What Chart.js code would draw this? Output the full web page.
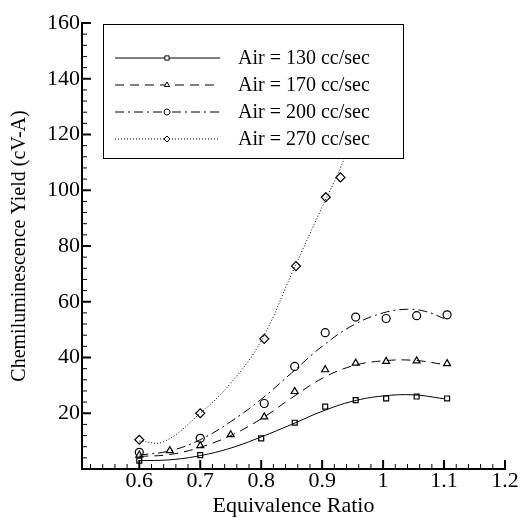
<!DOCTYPE html>
<html>
<head>
<meta charset="utf-8">
<script src="https://cdn.jsdelivr.net/npm/chart.js@4.4.1/dist/chart.umd.min.js"></script>
<style>
  html, body { margin: 0; padding: 0; background: #fff; }
  canvas { display: block; }
</style>
</head>
<body>
<canvas id="chart" width="528" height="519"></canvas>
<script>
// measured points (markers)
const labels = ['Air = 130 cc/sec', 'Air = 170 cc/sec', 'Air = 200 cc/sec', 'Air = 270 cc/sec'];
const x130 = [0.6, 0.7, 0.8, 0.855, 0.905, 0.955, 1.005, 1.055, 1.105];
const y130 = [3, 5, 11, 16.6, 22.4, 24.7, 25.3, 26, 25.3];
const x170 = [0.6, 0.65, 0.7, 0.75, 0.805, 0.855, 0.905, 0.955, 1.005, 1.055, 1.105];
const y170 = [5, 6.6, 8.4, 12.3, 18.7, 27.8, 35.6, 38, 38.6, 38.8, 37.8];
const x200 = [0.6, 0.7, 0.805, 0.855, 0.905, 0.955, 1.005, 1.055, 1.105];
const y200 = [6, 11, 23.5, 36.8, 48.9, 54.5, 54, 55, 55.3];
const x270 = [0.6, 0.7, 0.805, 0.857, 0.906, 0.93];
const y270 = [10.5, 20, 46.7, 72.8, 97.5, 104.6];

// fitted curves
const fitX130 = [0.6, 0.65, 0.7, 0.75, 0.8, 0.85, 0.9, 0.95, 1.0, 1.05, 1.1];
const fitY130 = [3, 3.3, 4.8, 7.5, 11.5, 16, 20.7, 24.3, 26.2, 26.6, 25.2];
const fitX170 = [0.6, 0.65, 0.7, 0.75, 0.8, 0.85, 0.9, 0.95, 1.0, 1.05, 1.1];
const fitY170 = [4.5, 5.2, 7.8, 12, 18, 25.5, 32.5, 37, 38.8, 39, 37.5];
const fitX200 = [0.6, 0.65, 0.7, 0.75, 0.8, 0.85, 0.9, 0.95, 1.0, 1.04, 1.07, 1.1];
const fitY200 = [5, 6.5, 10.5, 17, 25, 34.5, 44, 51.5, 56, 57.3, 56.5, 54];
const fitX270 = [0.6, 0.64, 0.7, 0.75, 0.8, 0.85, 0.9, 0.93, 0.95];
const fitY270 = [10, 9.8, 20, 30.8, 46, 70, 94, 108, 120];

const xTickLabels = [0.6, 0.7, 0.8, 0.9, 1, 1.1, 1.2];
const yTickLabels = [20, 40, 60, 80, 100, 120, 140, 160];

const styles = [
  { dash: [], point: 'rect', radius: 3.5 },
  { dash: [9, 6], point: 'triangle', radius: 4 },
  { dash: [9, 4, 2, 4], point: 'circle', radius: 4 },
  { dash: [1, 2], point: 'rectRot', radius: 4.5 }
];

const toPts = (xs, ys) => xs.map((x, i) => ({ x: x, y: ys[i] }));
const FONT = "'Liberation Serif', 'Times New Roman', serif";
Chart.defaults.font.family = FONT;
Chart.defaults.color = '#000';

function curve(xs, ys, s) {
  return {
    data: toPts(xs, ys), showLine: true, borderColor: '#000', borderWidth: 1,
    borderDash: s.dash, pointRadius: 0, tension: 0.4, fill: false
  };
}
function marks(xs, ys, s) {
  return {
    data: toPts(xs, ys), showLine: false, pointStyle: s.point, pointRadius: s.radius,
    pointBackgroundColor: '#fff', pointBorderColor: '#000', pointBorderWidth: 1.2
  };
}

// inward ticks on left and bottom axes
const innerTicks = {
  id: 'innerTicks',
  afterDatasetsDraw(chart) {
    const ctx = chart.ctx, xs = chart.scales.x, ys = chart.scales.y;
    const bottom = ys.getPixelForValue(0), left = xs.left;
    ctx.save();
    ctx.strokeStyle = '#000';
    for (let i = 26; i <= 60; i++) {
      const v = i / 50;
      const major = i % 5 === 0;
      const px = xs.getPixelForValue(v);
      ctx.lineWidth = major ? 2 : 1;
      ctx.beginPath(); ctx.moveTo(px, bottom); ctx.lineTo(px, bottom - (major ? 9 : 5)); ctx.stroke();
    }
    for (let v = 4; v <= 160; v += 4) {
      const major = v % 20 === 0;
      const py = ys.getPixelForValue(v);
      ctx.lineWidth = major ? 2 : 1;
      ctx.beginPath(); ctx.moveTo(left, py); ctx.lineTo(left + (major ? 9 : 5), py); ctx.stroke();
    }
    ctx.restore();
  }
};

// boxed legend drawn over the curves
const boxLegend = {
  id: 'boxLegend',
  afterDraw(chart) {
    const ctx = chart.ctx;
    const bx = 103, by = 24, bw = 300, bh = 134;
    ctx.save();
    ctx.fillStyle = '#fff';
    ctx.fillRect(bx, by, bw, bh);
    ctx.strokeStyle = '#000';
    ctx.lineWidth = 1;
    ctx.strokeRect(bx + 0.5, by + 0.5, bw, bh);
    ctx.font = '20px ' + FONT;
    ctx.textBaseline = 'middle';
    labels.forEach((lab, i) => {
      const y = 58 + i * 27;
      const s = styles[i];
      ctx.setLineDash(s.dash);
      ctx.beginPath(); ctx.moveTo(115, y); ctx.lineTo(220, y); ctx.stroke();
      ctx.setLineDash([]);
      ctx.fillStyle = '#fff';
      Chart.helpers.drawPoint(ctx, { pointStyle: s.point, radius: 3, borderWidth: 1, rotation: 0 }, 167, y);
      ctx.fillStyle = '#000';
      ctx.fillText(lab, 238, y + 1);
    });
    ctx.restore();
  }
};

const datasets = [
  curve(fitX130, fitY130, styles[0]),
  curve(fitX170, fitY170, styles[1]),
  curve(fitX200, fitY200, styles[2]),
  curve(fitX270, fitY270, styles[3]),
  marks(x130, y130, styles[0]),
  marks(x170, y170, styles[1]),
  marks(x200, y200, styles[2]),
  marks(x270, y270, styles[3])
];

new Chart(document.getElementById('chart'), {
  type: 'scatter',
  data: { datasets: datasets },
  options: {
    responsive: false,
    animation: false,
    layout: { padding: { top: 23, right: 23, left: 10, bottom: 2 } },
    plugins: { legend: { display: false }, tooltip: { enabled: false } },
    scales: {
      x: {
        type: 'linear', min: 0.506, max: 1.2,
        afterBuildTicks: axis => { axis.ticks = xTickLabels.map(v => ({ value: v })); },
        grid: { display: false, drawTicks: false },
        border: { display: true, color: '#000', width: 2 },
        ticks: { color: '#000', font: { family: FONT, size: 22, lineHeight: 1 }, padding: 1, maxRotation: 0,
                  callback: v => String(Math.round(v * 10) / 10) },
        title: { display: true, text: 'Equivalence Ratio', color: '#000', font: { family: FONT, size: 22, lineHeight: 1 }, padding: { top: 2, bottom: 0 } }
      },
      y: {
        type: 'linear', min: 0, max: 160,
        afterBuildTicks: axis => { axis.ticks = yTickLabels.map(v => ({ value: v })); },
        grid: { display: false, drawTicks: false },
        border: { display: true, color: '#000', width: 2 },
        ticks: { color: '#000', font: { family: FONT, size: 22, lineHeight: 1 }, padding: 2 },
        title: { display: true, text: 'Chemiluminescence Yield (cV-A)', color: '#000', font: { family: FONT, size: 20, lineHeight: 1 }, padding: { top: 0, bottom: 15 } }
      }
    }
  },
  plugins: [innerTicks, boxLegend]
});
</script>
</body>
</html>
